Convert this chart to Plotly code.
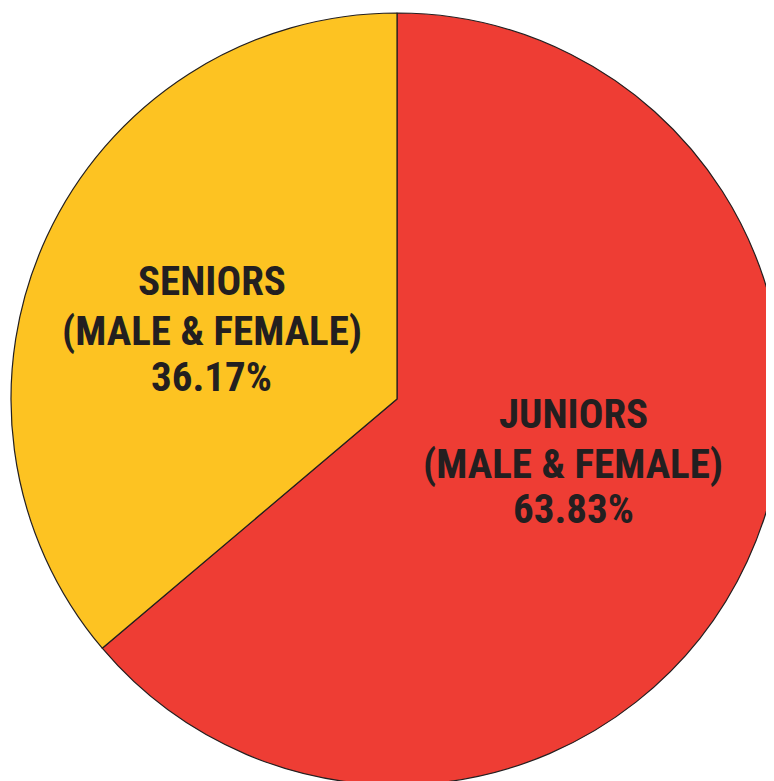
import plotly.graph_objects as go

categories = ["JUNIORS", "SENIORS"]
subtitles = ["(MALE & FEMALE)", "(MALE & FEMALE)"]
values = [63.83, 36.17]
colors = ["#EE3D34", "#FDC322"]

# pixel geometry of the page (body has 8px default margin)
BODY = 8
ML, MT = 3, 5
SIZE = 772
W, H = 800, 800

fig = go.Figure(go.Pie(
    labels=categories,
    values=values,
    sort=False,
    direction="clockwise",
    rotation=0,
    marker=dict(colors=colors, line=dict(color="#231F20", width=1.2)),
    textinfo="none",
    hoverinfo="skip",
    showlegend=False,
    domain=dict(x=[0, 1], y=[0, 1]),
))

def px2paper(px, py):
    return (px - BODY - ML) / SIZE, 1 - (py - BODY - MT) / SIZE

# label line centres (page pixels) for each slice
label_centres = [(573, [413, 463, 508]), (212, [280, 330, 376])]
font = dict(family="Roboto Condensed, Open Sans Condensed, sans-serif",
            size=41, color="#231F20")
for i, (cx, ys) in enumerate(label_centres):
    lines = [categories[i], subtitles[i], f"{values[i]:.2f}%"]
    for line, cy in zip(lines, ys):
        x, y = px2paper(cx, cy + 1)
        fig.add_annotation(x=x, y=y, xref="paper", yref="paper",
                           text=f"<b>{line}</b>", showarrow=False,
                           xanchor="center", yanchor="middle", font=font)

fig.update_layout(
    width=W, height=H,
    margin=dict(l=ML, t=MT, r=W - ML - SIZE, b=H - MT - SIZE, pad=0),
    paper_bgcolor="white", plot_bgcolor="white",
)

fig.write_html("out.html", config={"displayModeBar": False},
               post_script="document.documentElement.style.overflow='hidden';document.body.style.overflow='hidden';")
